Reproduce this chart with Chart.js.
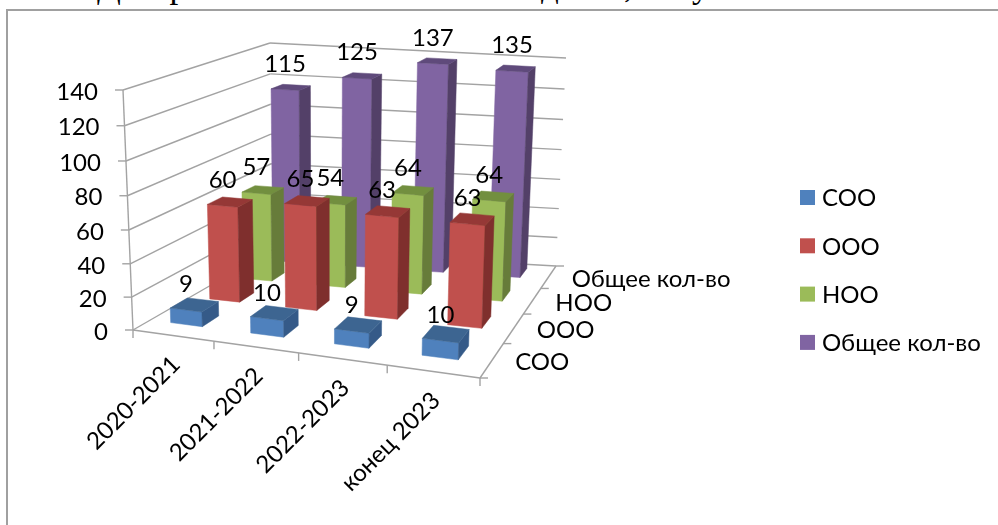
<!DOCTYPE html>
<html lang="ru">
<head>
<meta charset="utf-8">
<title>Диаграмма 3</title>
<style>
html, body { margin: 0; padding: 0; background: #fff; overflow: hidden; }
#page { position: relative; width: 998px; height: 525px; overflow: hidden; }
#heading span { position: absolute; top: -34px; font: 35px "Liberation Serif", serif; white-space: nowrap; color: #000; }
#frame { position: absolute; left: 6px; top: 9px; width: 992px; height: 516px; border-left: 2px solid #a0a0a0; border-top: 2px solid #a0a0a0; box-sizing: border-box; background: #fff; }
#chart { position: absolute; left: 0; top: 0; }
</style>
</head>
<body>
<div id="page">
  <div id="heading">
    <span style="left:97px">Диаграмма</span>
    <span style="left:298px">3.</span>
    <span style="left:346px">Количество</span>
    <span style="left:541px">детей,</span>
    <span style="left:658px">обучавшихся</span>
    <span style="left:873px">на</span>
    <span style="left:938px">конец</span>
  </div>
  <div id="frame"></div>
  <canvas id="chart" width="998" height="525"></canvas>
</div>
<script src="https://cdn.jsdelivr.net/npm/chart.js@4"></script>
<script>
/* data */
const years = ['2020-2021', '2021-2022', '2022-2023', 'конец 2023'];
const seriesNames = ['СОО', 'ООО', 'НОО', 'Общее кол-во'];
const coo = [9, 10, 9, 10];
const ooo = [60, 65, 63, 63];
const noo = [57, 54, 64, 64];
const total = [115, 125, 137, 135];

/* front, side and top face colours, one row per series */
const frontColors = ['#4f81bd', '#c0504d', '#9bbb59', '#8064a2'];
const sideColors = ['#355a88', '#7f2f2d', '#677c3a', '#534068'];
const topColors = ['#3d6591', '#953836', '#728f3f', '#5f4a7b'];

const font = '24px Lato, "Open Sans", sans-serif';
const gridColor = '#a3a3a3';

/* corners of the 3d box as they fall on the page */
const floorA = [133, 330], floorB = [480, 378], floorC = [556, 266], floorD = [272, 250];
const topA = [123, 90], topB = [488, 123], topC = [566, 58], topD = [270, 43];
const rowDepth = 0.105;
const rowShift = 0.025;
const colShift = -0.01;

/* the view is not quite a true perspective, so each direction gets its own warp */
function warpU(u) { return u / (1 + 0.095 * (1 - u)); }
function warpD(d) { return d * 1.33 / (1 + 0.33 * d); }
function warpV(v) { return v / (1 + 0.05 * (1 - v)); }

function lerp(p, q, t) {
    return [p[0] + (q[0] - p[0]) * t, p[1] + (q[1] - p[1]) * t];
}

function project(u, depth, v) {
    const U = warpU(u), D = warpD(depth);
    const low = lerp(lerp(floorA, floorB, U), lerp(floorD, floorC, U), D);
    const high = lerp(lerp(topA, topB, U), lerp(topD, topC, U), D);
    return lerp(low, high, warpV(v));
}

function face(ctx, color, pts) {
    ctx.fillStyle = color;
    ctx.strokeStyle = color;
    ctx.lineWidth = 0.5;
    ctx.beginPath();
    pts.forEach(function (pt, i) {
        if (i === 0) ctx.moveTo(pt[0], pt[1]);
        else ctx.lineTo(pt[0], pt[1]);
    });
    ctx.closePath();
    ctx.fill();
    ctx.stroke();
}

function line(ctx, from, to) {
    ctx.beginPath();
    ctx.moveTo(from[0], from[1]);
    ctx.lineTo(to[0], to[1]);
    ctx.stroke();
}

function text(ctx, str, x, y, align) {
    ctx.textAlign = align;
    ctx.textBaseline = 'middle';
    ctx.fillText(str, x, y);
}

function fracX(chart, px) {
    return (px - chart.scales.x.left) / chart.scales.x.width;
}
function fracY(chart, px) {
    return (chart.scales.y.bottom - px) / chart.scales.y.height;
}
function rowFront(row) {
    return (row + 0.5) / seriesNames.length - rowDepth / 2 + rowShift;
}

const box3d = {
    id: 'box3d',
    beforeDatasetsDraw(chart) {
        const ctx = chart.ctx;
        const yScale = chart.scales.y;
        ctx.save();
        ctx.strokeStyle = gridColor;
        ctx.lineWidth = 1.4;
        ctx.fillStyle = '#000';
        ctx.font = font;

        /* gridlines on the two walls, value ticks and labels */
        yScale.ticks.forEach(function (tick) {
            const v = fracY(chart, yScale.getPixelForValue(tick.value));
            const front = project(0, 0, v);
            const corner = project(0, 1, v);
            const right = project(1, 1, v);
            line(ctx, front, corner);
            line(ctx, corner, right);
            line(ctx, front, [front[0] - 8, front[1]]);
            text(ctx, String(tick.value), front[0] - 25, front[1] + 2, 'right');
        });
        line(ctx, project(0, 0, 0), project(0, 0, 1));

        /* floor front and right edges */
        line(ctx, project(0, 0, 0), project(1, 0, 0));
        line(ctx, project(1, 0, 0), project(1, 1, 0));
        for (let i = 0; i <= years.length; i++) {
            const pt = project(i / years.length, 0, 0);
            line(ctx, pt, [pt[0], pt[1] + 8]);
        }
        for (let i = 0; i <= seriesNames.length; i++) {
            const pt = project(1, i / seriesNames.length, 0);
            line(ctx, pt, [pt[0] + 8, pt[1]]);
        }

        /* category and series names on the floor edges */
        years.forEach(function (name, i) {
            const pt = project((i + 0.5) / years.length, 0, 0);
            ctx.save();
            ctx.translate(pt[0] + 3, pt[1] + 25);
            ctx.rotate(-Math.PI / 4);
            text(ctx, name, 0, 0, 'right');
            ctx.restore();
        });
        seriesNames.forEach(function (name, i) {
            const pt = project(1, (i + 0.5) / seriesNames.length, 0);
            text(ctx, name, pt[0] + 23, pt[1] + 2, 'left');
        });
        ctx.restore();
    },
    beforeDatasetDraw(chart, args) {
        const ctx = chart.ctx;
        const row = args.index;
        const d0 = rowFront(row);
        const d1 = d0 + rowDepth;
        ctx.save();
        args.meta.data.forEach(function (bar) {
            const u0 = fracX(chart, bar.x - bar.width / 2) + colShift;
            const u1 = fracX(chart, bar.x + bar.width / 2) + colShift;
            const v = fracY(chart, bar.y);
            face(ctx, frontColors[row], [project(u0, d0, 0), project(u1, d0, 0), project(u1, d0, v), project(u0, d0, v)]);
            face(ctx, sideColors[row], [project(u1, d0, 0), project(u1, d1, 0), project(u1, d1, v), project(u1, d0, v)]);
            face(ctx, topColors[row], [project(u0, d0, v), project(u1, d0, v), project(u1, d1, v), project(u0, d1, v)]);
        });
        ctx.restore();
        return false;
    },
    afterDatasetsDraw(chart) {
        const ctx = chart.ctx;
        ctx.save();
        ctx.fillStyle = '#000';
        ctx.font = font;
        chart.data.datasets.forEach(function (set, row) {
            chart.getDatasetMeta(row).data.forEach(function (bar, i) {
                const pt = project(fracX(chart, bar.x) + colShift, rowFront(row), fracY(chart, bar.y));
                text(ctx, String(set.data[i]), pt[0], pt[1] - 25.5, 'center');
            });
            /* legend */
            const rowY = 197.5 + 48.3 * row;
            ctx.fillStyle = frontColors[row];
            ctx.fillRect(800, rowY - 7.5, 15, 15);
            ctx.fillStyle = '#000';
            text(ctx, set.label, 822, rowY + 1, 'left');
        });
        ctx.restore();
    }
};

const seriesValues = [coo, ooo, noo, total];
const chart = new Chart(document.querySelector('#chart').getContext('2d'), {
    type: 'bar',
    data: {
        labels: years,
        datasets: seriesValues.map(function (values, i) {
            return {
                label: seriesNames[i],
                data: values,
                backgroundColor: frontColors[i],
                barPercentage: 0.4,
                categoryPercentage: 1
            };
        })
    },
    options: {
        responsive: false,
        animation: false,
        events: [],
        scales: {
            x: { stacked: true, display: false },
            y: { display: false, min: 0, max: 140, ticks: { stepSize: 20 } }
        },
        plugins: {
            title: { display: false },
            tooltip: { enabled: false },
            legend: { display: false }
        }
    },
    plugins: [box3d]
});
</script>
</body>
</html>
